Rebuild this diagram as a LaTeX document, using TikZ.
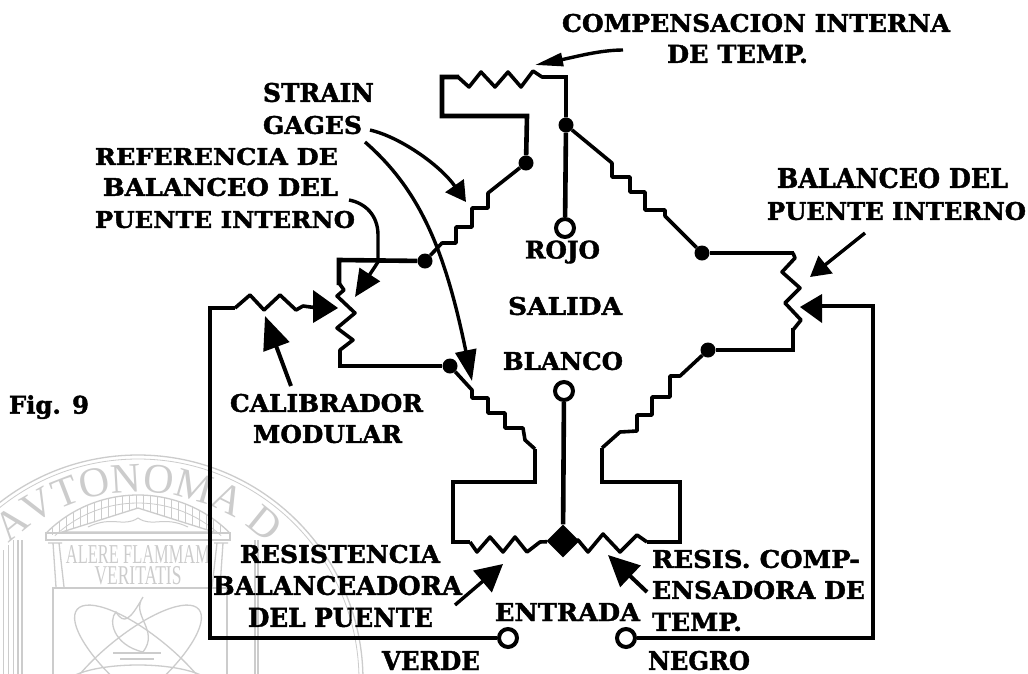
\documentclass[tikz,border=0pt]{standalone}
\usepackage{fontspec}
\usepackage{graphicx}
\setmainfont{DejaVu Serif}
\newfontfamily\heavyfont[FakeBold=1.6]{DejaVu Serif Bold}
\newfontfamily\sealfont{Liberation Serif}
\usetikzlibrary{arrows.meta,decorations.text,calc}
\definecolor{seal}{gray}{0.80}
\newcommand{\lineText}[6]{%
  \pgfmathsetmacro{\cxv}{(#2+#3)/2}\pgfmathsetmacro{\cyv}{(#4+#5)/2}%
  \pgfmathsetmacro{\wv}{#3-#2}\pgfmathsetmacro{\hv}{#5-#4}%
  \node[lab] (#1) at (\cxv,\cyv) {\resizebox{\wv pt}{\hv pt}{#6}};}
\tikzset{
  lab/.style={inner sep=0pt,outer sep=0pt,font=\heavyfont\fontsize{24}{24}\selectfont},
  wire/.style={line width=4.6pt,line join=miter,line cap=butt},
  zig/.style={line width=3.6pt,line join=round},
  dotjoin/.style={circle,fill=black,inner sep=0pt,minimum size=15pt},
  bigdot/.style={diamond,fill=black,inner sep=0pt,minimum size=33pt},
  term/.style={circle,draw=black,fill=white,line width=4pt,inner sep=0pt,minimum size=18pt},
  pointer/.style={line width=3.4pt},
  sealline/.style={draw=seal,line width=1.3pt},
}
\usetikzlibrary{shapes.geometric}
\begin{document}
\begin{tikzpicture}[x=1pt,y=-1pt]
\useasboundingbox (0,0) rectangle (1028,673);
\fill[white] (0,0) rectangle (1028,673);
% ---------- watermark seal ----------
\begin{scope}[shift={(138,680)},x=1pt,y=1pt]
  \clip (-138,-7) rectangle (300,240);
  \draw[sealline] (0,0) circle (225);
  \draw[sealline,line width=.8pt] (0,0) circle (221);
  \path[decorate,decoration={text along path,text align=center,
     text={|\sealfont\fontsize{42}{42}\selectfont\color{seal}|AVTONOMA D}}]
     (133:188) arc (133:47:188);
  \draw[sealline] ($(0,55)+(135:130)$) arc (135:45:130);
  \draw[sealline,line width=.8pt] ($(0,55)+(133:122)$) arc (133:47:122);
  \foreach \X in {-86,-79,...,86}{
    \pgfmathsetmacro{\up}{55+100*sqrt(1.69-(\X/100)*(\X/100))}
    \pgfmathsetmacro{\lo}{172-abs(\X)*24/76}
    \draw[seal,line width=.8pt] (\X,\up) -- (\X,\lo);
  }
  \draw[sealline] (-76,148) -- (0,172) -- (76,148) -- cycle;
  \draw[seal,line width=1pt] (-50,153) .. controls (-25,165) and (-15,152) .. (0,162) .. controls (15,152) and (25,165) .. (50,153);
  \draw[sealline] (-92,147) rectangle (92,140);
  \draw[sealline] (-90,137) -- (-76,137) (-85,137) -- (-82,93) (-79,137) -- (-74,93);
  \draw[sealline] (76,137) -- (90,137) (85,137) -- (82,93) (79,137) -- (74,93);
  \draw[sealline] (-120,140) -- (-120,-7) (-116,140) -- (-116,-7);
  \draw[sealline] (117,140) -- (117,-7) (120,140) -- (120,-7);
  \draw[seal,line width=.8pt] (-135,130) -- (-135,-7) (-130,135) -- (-130,-7) (-125,140) -- (-125,-7);
  \draw[sealline] (-85,-7) -- (-85,92) -- (89,92) -- (89,-7);
  \node[inner sep=0pt,text=seal] (sealA) at (0,126) {\resizebox{144pt}{18pt}{\sealfont ALERE FLAMMAM}};
  \node[inner sep=0pt,text=seal] (sealB) at (0,104) {\resizebox{87pt}{18pt}{\sealfont VERITATIS}};
  \draw[sealline,rotate=40] (0,15) ellipse (92 and 30);
  \draw[sealline,rotate=-40] (0,15) ellipse (92 and 30);
  \draw[sealline] (0,-7) ellipse (75 and 22);
  \draw[sealline] (-25,27) -- (23,27) (-18,21) -- (16,21);
  \draw[sealline] (5,83) .. controls (-8,65) and (22,50) .. (5,28) .. controls (-25,35) and (-30,60) .. (-22,68) .. controls (-14,55) and (-8,60) .. (5,83);
\end{scope}
% ---------- junctions and terminals ----------
\node[dotjoin] (jtop) at (566,125) {};
\node[dotjoin] (jul) at (526,163) {};
\node[dotjoin] (jl1) at (425,261) {};
\node[dotjoin] (jl2) at (450,366) {};
\node[dotjoin] (jr1) at (702,253) {};
\node[dotjoin] (jr2) at (708,350) {};
\node[bigdot] (jbot) at (563,541) {};
\node[term] (trojo) at (565,228) {};
\node[term] (tblanco) at (564,391) {};
\node[term] (tverde) at (508,638) {};
\node[term] (tnegro) at (626,638) {};
% ---------- top resistor loop ----------
\draw[zig] (jtop) -- (566,77) -- (542,77) -- (533,71) -- (521,87) -- (508,72) -- (495,87) -- (481,72) -- (469,87) -- (458,77);
\draw[wire] (566,75) -- (jtop);
\draw[wire] (459,77) -- (442,77) -- (442,116) -- (527,116) -- (jul);
\draw[wire] (jtop) -- (trojo);
% ---------- upper left strain gage ----------
\draw[zig] (jul) -- (488,193) -- (488,208) -- (472,208) -- (472,227) -- (456,227) -- (456,243) -- (442,243) -- (jl1);
% ---------- upper right strain gage ----------
\draw[zig] (jtop) -- (612,163) -- (612,177) -- (630,177) -- (630,192) -- (645,192) -- (645,210) -- (665,210) -- (665,216) -- (jr1);
% ---------- left trimmer ----------
\draw[wire] (jl1) -- (339,260) -- (339,285);
\draw[zig] (339,283) -- (344,290) -- (337,296) -- (355,313) -- (337,328) -- (353,340) -- (340,350) -- (340,355);
\draw[wire] (340,350) -- (340,366) -- (jl2);
% ---------- lower left strain gage ----------
\draw[zig] (jl2) -- (472,390) -- (472,398) -- (488,398) -- (488,413) -- (505,413) -- (505,428) -- (523,428) -- (525,440) -- (535,449);
\draw[wire] (535,449) -- (535,482) -- (453,482) -- (453,542) -- (470,542);
\draw[zig] (470,542) -- (477,552) -- (490,537) -- (503,552) -- (515,537) -- (527,552) -- (540,542) -- (jbot);
% ---------- lower right strain gage ----------
\draw[zig] (jbot) -- (578,540) -- (588,552) -- (603,534) -- (620,552) -- (637,535) -- (647,542);
\draw[wire] (647,542) -- (680,542) -- (680,482) -- (602,482) -- (602,448);
\draw[zig] (602,448) -- (620,432) -- (637,431) -- (637,415) -- (652,415) -- (652,397) -- (670,397) -- (670,376) -- (680,376) -- (jr2);
% ---------- right trimmer ----------
\draw[wire] (jr2) -- (793,350) -- (793,328);
\draw[zig] (793,330) -- (801,320) -- (785,303) -- (800,288) -- (782,272) -- (795,258) -- (793,253);
\draw[wire] (794,253) -- (jr1);
% ---------- outputs and inputs ----------
\draw[wire] (jbot) -- (tblanco);
\draw[wire] (tverde) -- (210,638) -- (210,308) -- (235,308);
\draw[zig] (235,308) -- (250,295) -- (264,310) -- (280,295) -- (296,310) -- (303,306) -- (318,308);
\path[fill=black] (338,308) -- (313,290) -- (313,323) -- cycle;
\draw[wire] (tnegro) -- (873,638) -- (873,306) -- (815,306);
\path[fill=black] (800,307) -- (822,294) -- (822,323) -- cycle;
% ---------- annotation pointers ----------
\coordinate (pcomp) at (623,50); \coordinate (pcompT) at (535,65);
\draw[pointer,-{Triangle[length=28pt,width=13pt]}] (pcomp) .. controls (600,50) and (575,57) .. (pcompT);
\coordinate (ps1) at (370,130); \coordinate (ps1T) at (466,202);
\draw[pointer,-{Triangle[length=20pt,width=22pt]}] (ps1) .. controls (400,137) and (440,165) .. (ps1T);
\coordinate (ps2) at (365,142); \coordinate (ps2T) at (472,381);
\draw[pointer,-{Triangle[length=31pt,width=21pt]}] (ps2) .. controls (420,190) and (445,250) .. (ps2T);
\coordinate (pr) at (349,200); \coordinate (prT) at (355,297);
\draw[pointer,line join=round] (pr) .. controls (365,203) and (378,215) .. (378,235) -- (378,262);
\coordinate (prM) at (378,262);
\draw[pointer,-{Triangle[length=27pt,width=24pt]}] (prM) -- (prT);
\coordinate (pc) at (291,386); \coordinate (pcT) at (265,316);
\draw[pointer,line width=4pt,-{Triangle[length=33pt,width=27pt]}] (pc) -- (pcT);
\coordinate (pb) at (865,233); \coordinate (pbT) at (810,277);
\draw[pointer,-{Triangle[length=20pt,width=22pt]}] (pb) -- (pbT);
\coordinate (pe) at (455,605); \coordinate (peT) at (503,564);
\draw[pointer,-{Triangle[length=27pt,width=28pt]}] (pe) -- (peT);
\coordinate (pz) at (647,592); \coordinate (pzT) at (608,555);
\draw[pointer,line width=4pt,-{Triangle[length=31pt,width=29pt]}] (pz) -- (pzT);
% ---------- labels ----------
\lineText{t1}{562}{950}{14}{32}{COMPENSACION INTERNA}
\lineText{t2}{667}{808}{45}{63}{DE TEMP.}
\lineText{t3}{263}{374}{83}{102}{STRAIN}
\lineText{t4}{263}{362}{116}{134}{GAGES}
\lineText{t5}{95}{338}{148}{165}{REFERENCIA DE}
\lineText{t6}{103}{338}{178}{196}{BALANCEO DEL}
\lineText{t7}{95}{355}{211}{228}{PUENTE INTERNO}
\lineText{t8}{525}{600}{243}{261}{ROJO}
\lineText{t9}{508}{622}{297}{315}{SALIDA}
\lineText{t10}{503}{623}{352}{370}{BLANCO}
\lineText{t11}{777}{1008}{168}{188}{BALANCEO DEL}
\lineText{t12}{767}{1026}{202}{220}{PUENTE INTERNO}
\lineText{t13}{230}{423}{394}{412}{CALIBRADOR}
\lineText{t14}{253}{402}{425}{443}{MODULAR}
\lineText{t15}{240}{440}{545}{563}{RESISTENCIA}
\lineText{t16}{213}{462}{576}{595}{BALANCEADORA}
\lineText{t17}{248}{433}{608}{627}{DEL PUENTE}
\lineText{t18}{495}{640}{603}{621}{ENTRADA}
\lineText{t19}{382}{480}{651}{670}{VERDE}
\lineText{t20}{648}{750}{651}{670}{NEGRO}
\lineText{t21}{652}{860}{550}{568}{RESIS. COMP-}
\lineText{t22}{652}{865}{581}{599}{ENSADORA DE}
\lineText{t23}{652}{742}{613}{631}{TEMP.}
\node[lab,anchor=south west] (fig) at (9,419) {\resizebox{80pt}{!}{Fig. 9}};
\end{tikzpicture}
\end{document}
